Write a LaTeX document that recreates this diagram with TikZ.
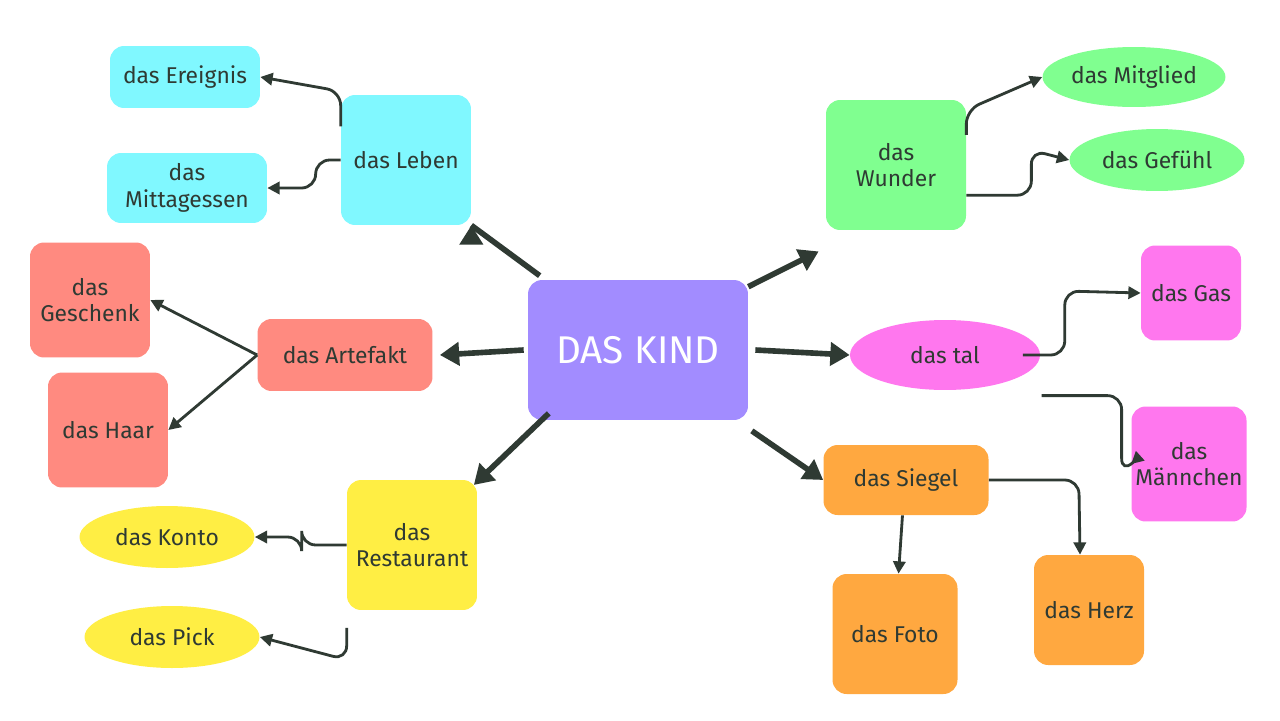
\documentclass[tikz,border=0pt]{standalone}
\usepackage{fontspec}
\setmainfont{Fira Sans}
\usetikzlibrary{arrows.meta,positioning,shapes.geometric}
\definecolor{ink}{HTML}{2F3A33}
\definecolor{kindc}{HTML}{A28CFF}
\definecolor{cyanc}{HTML}{80F8FF}
\definecolor{redc}{HTML}{FF8A80}
\definecolor{yelc}{HTML}{FFEE44}
\definecolor{grnc}{HTML}{80FF90}
\definecolor{pinkc}{HTML}{FF77EE}
\definecolor{orgc}{HTML}{FFA840}
\tikzset{
  box/.style={rounded corners=8pt, align=center, text=ink, inner sep=2pt,
    font=\fontsize{13}{15}\selectfont},
  oval/.style={ellipse, align=center, text=ink, inner sep=1pt,
    font=\fontsize{13}{15}\selectfont},
  mainarrow/.style={draw=ink, line width=3.2pt, -{Triangle[length=11pt,width=13pt]}},
  subarrow/.style={draw=ink, line width=1.6pt, rounded corners=8pt, -{Triangle[length=7pt,width=7pt]}},
}
\begin{document}
\begin{tikzpicture}[x=0.02cm,y=-0.02cm]
  \useasboundingbox[fill=white] (0,0) rectangle (1280,720);

  % centre
  \node[box, fill=kindc, minimum width=4.4cm, minimum height=2.8cm, text=white,
    font=\fontsize{22}{26}\selectfont] (kind) at (638,350) {DAS KIND};

  % main branches
  \node[box, fill=cyanc, minimum width=2.6cm, minimum height=2.6cm] (leben) at (406,160) {das Leben};
  \node[box, fill=redc, minimum width=3.5cm, minimum height=1.44cm] (artefakt) at (345,355) {das Artefakt};
  \node[box, fill=yelc, minimum width=2.6cm, minimum height=2.6cm] (restaurant) at (412,545) {das\\Restaurant};
  \node[box, fill=grnc, minimum width=2.8cm, minimum height=2.6cm] (wunder) at (896,165) {das\\Wunder};
  \node[oval, fill=pinkc, minimum width=3.8cm, minimum height=1.4cm] (tal) at (945,355) {das tal};
  \node[box, fill=orgc, minimum width=3.3cm, minimum height=1.4cm] (siegel) at (906,480) {das Siegel};

  % leaves
  \node[box, fill=cyanc, minimum width=3cm, minimum height=1.24cm] (ereignis) at (185,77) {das Ereignis};
  \node[box, fill=cyanc, minimum width=3.2cm, minimum height=1.4cm] (mittag) at (187,188) {das\\Mittagessen};
  \node[box, fill=redc, minimum width=2.4cm, minimum height=2.3cm] (geschenk) at (90,300) {das\\Geschenk};
  \node[box, fill=redc, minimum width=2.4cm, minimum height=2.3cm] (haar) at (108,430) {das Haar};
  \node[oval, fill=yelc, minimum width=3.5cm, minimum height=1.24cm] (konto) at (167,537) {das Konto};
  \node[oval, fill=yelc, minimum width=3.5cm, minimum height=1.24cm] (pick) at (172,637) {das Pick};
  \node[oval, fill=grnc, minimum width=3.5cm, minimum height=1.2cm] (mitglied) at (1134,77) {das Mitglied};
  \node[oval, fill=grnc, minimum width=3.5cm, minimum height=1.24cm] (gefuehl) at (1157,160) {das Gefühl};
  \node[box, fill=pinkc, minimum width=2cm, minimum height=1.9cm] (gas) at (1191,293) {das Gas};
  \node[box, fill=pinkc, minimum width=2.3cm, minimum height=2.3cm] (maennchen) at (1189,464) {das\\Männchen};
  \node[box, fill=orgc, minimum width=2.5cm, minimum height=2.4cm] (foto) at (895,634) {das Foto};
  \node[box, fill=orgc, minimum width=2.2cm, minimum height=2.2cm] (herz) at (1089,610) {das Herz};

  % centre to branches
  \draw[mainarrow] (kind.north west) ++(12,-4) -- (leben.south east) ++(0,0);
  \draw[mainarrow] (kind.west) ++(-4,0) -- ([xshift=4]artefakt.east);
  \draw[mainarrow] ([xshift=12,yshift=4]kind.south west) -- ([xshift=-2,yshift=-3]restaurant.north east);
  \draw[mainarrow] ([yshift=-4]kind.north east) ++(0,0) -- ([xshift=-4,yshift=-12]wunder.south west);
  \draw[mainarrow] ([xshift=4]kind.east) -- (tal.west);
  \draw[mainarrow] ([xshift=2,yshift=-6]kind.south east) -- (siegel.west);

  % sub connectors
  \draw[subarrow] ([yshift=-18]leben.north west) -- ++(0,-35) -- (ereignis.east);
  \draw[subarrow] (leben.west) -- ++(-25,0) -- ++(0,28) -- (mittag.east);
  \draw[subarrow] (artefakt.west) -- (geschenk.east);
  \draw[subarrow] (artefakt.west) -- (haar.east);
  \draw[subarrow] (restaurant.west) -- ++(-45,0) -- ++(0,-8) -- (konto.east);
  \draw[subarrow] ([yshift=-10]restaurant.south west) -- ++(0,32) -- (pick.east);
  \draw[subarrow] ([yshift=-20]wunder.north east) -- ++(0,-25) -- (mitglied.west);
  \draw[subarrow] ([yshift=20]wunder.south east) -- ++(65,0) -- ++(0,-45) -- (gefuehl.west);
  \draw[subarrow] ([xshift=-10]tal.east) -- ++(42,0) -- ++(0,-64) -- (gas.west);
  \draw[subarrow] ([xshift=55,yshift=-3]tal.south) -- ++(80,0) -- ++(0,77) -- (maennchen.west);
  \draw[subarrow] ([xshift=-2]siegel.south) -- ([xshift=2]foto.north);
  \draw[subarrow] (siegel.east) -- ++(90,0) -- (herz.north -| 1080,480);
\end{tikzpicture}
\end{document}
